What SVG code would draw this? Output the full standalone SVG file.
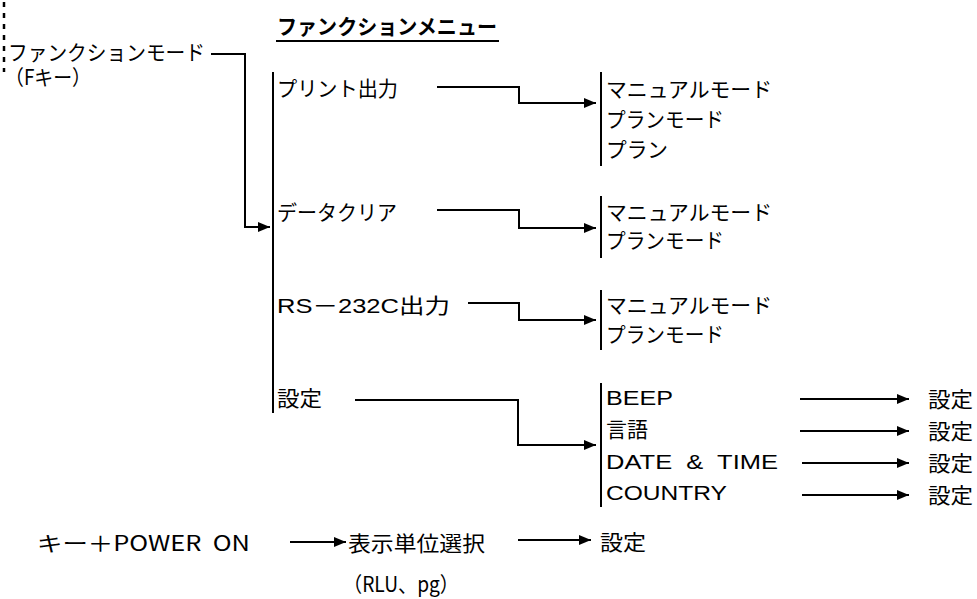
<svg xmlns="http://www.w3.org/2000/svg" width="977" height="599" viewBox="0 0 977 599">
<style>
text{font-family:"Noto Sans CJK JP","Liberation Sans",sans-serif;font-size:21px;fill:#000}
.lat{font-family:"Liberation Sans","Noto Sans CJK JP",sans-serif;font-size:21px}
.pre{white-space:pre}
.title{font-weight:bold}
.ln{fill:none;stroke:#000;stroke-width:2}
.bar{stroke:#000;stroke-width:2}
.arr{fill:none;stroke:#000;stroke-width:2;marker-end:url(#ah)}
</style>
<defs>
<marker id="ah" markerUnits="userSpaceOnUse" markerWidth="12" markerHeight="10" refX="12" refY="5" orient="auto">
<path d="M0,0 L12,5 L0,10 z" fill="#000"/>
</marker>
</defs>
<rect width="977" height="599" fill="#fff"/>
<line x1="4" y1="2" x2="4" y2="72" stroke="#000" stroke-width="2.5" stroke-dasharray="5 6"/>
<g id="title">
<text class="title" x="277" y="34" textLength="220" lengthAdjust="spacingAndGlyphs">ファンクションメニュー</text>
<line class="bar" x1="276" y1="41" x2="499" y2="41"/>
</g>
<g id="fmode">
<text x="8" y="60" textLength="197" lengthAdjust="spacingAndGlyphs">ファンクションモード</text>
<text x="5" y="85" textLength="86" lengthAdjust="spacingAndGlyphs">（Fキー）</text>
</g>
<g id="menu">
<line class="bar" x1="273" y1="72" x2="273" y2="413"/>
<text x="277" y="96" textLength="121" lengthAdjust="spacingAndGlyphs">プリント出力</text>
<text x="277" y="220" textLength="120" lengthAdjust="spacingAndGlyphs">データクリア</text>
<text class="lat" x="277" y="313" textLength="173" lengthAdjust="spacingAndGlyphs">RS－232C出力</text>
<text x="277" y="406" textLength="45" lengthAdjust="spacingAndGlyphs">設定</text>
</g>
<g id="print-sub">
<line class="bar" x1="601" y1="72" x2="601" y2="166"/>
<text x="606" y="97" textLength="166" lengthAdjust="spacingAndGlyphs">マニュアルモード</text>
<text x="606" y="127" textLength="118" lengthAdjust="spacingAndGlyphs">プランモード</text>
<text x="606" y="157" textLength="62" lengthAdjust="spacingAndGlyphs">プラン</text>
</g>
<g id="clear-sub">
<line class="bar" x1="601" y1="196" x2="601" y2="258"/>
<text x="606" y="220" textLength="166" lengthAdjust="spacingAndGlyphs">マニュアルモード</text>
<text x="606" y="248" textLength="118" lengthAdjust="spacingAndGlyphs">プランモード</text>
</g>
<g id="rs-sub">
<line class="bar" x1="601" y1="290" x2="601" y2="350"/>
<text x="606" y="313" textLength="166" lengthAdjust="spacingAndGlyphs">マニュアルモード</text>
<text x="606" y="342" textLength="118" lengthAdjust="spacingAndGlyphs">プランモード</text>
</g>
<g id="settings-sub">
<line class="bar" x1="601" y1="383" x2="601" y2="507"/>
<text class="lat" x="606" y="405" textLength="67" lengthAdjust="spacingAndGlyphs">BEEP</text>
<text x="606" y="437" textLength="42" lengthAdjust="spacingAndGlyphs">言語</text>
<text class="lat pre" x="606" y="469" textLength="172" lengthAdjust="spacingAndGlyphs">DATE  &amp;  TIME</text>
<text class="lat" x="606" y="500" textLength="121" lengthAdjust="spacingAndGlyphs">COUNTRY</text>
</g>
<g id="settings-right">
<text x="928" y="407" textLength="45" lengthAdjust="spacingAndGlyphs">設定</text>
<text x="928" y="439" textLength="45" lengthAdjust="spacingAndGlyphs">設定</text>
<text x="928" y="471" textLength="45" lengthAdjust="spacingAndGlyphs">設定</text>
<text x="928" y="503" textLength="45" lengthAdjust="spacingAndGlyphs">設定</text>
</g>
<g id="power">
<text class="pre" x="37" y="551" textLength="213" lengthAdjust="spacingAndGlyphs">キー＋POWER  ON</text>
</g>
<g id="unit">
<text x="348" y="551" textLength="137" lengthAdjust="spacingAndGlyphs">表示単位選択</text>
<text x="343" y="592" textLength="116" lengthAdjust="spacingAndGlyphs">（RLU、pg）</text>
</g>
<g id="unit-set">
<text x="600" y="550" textLength="46" lengthAdjust="spacingAndGlyphs">設定</text>
</g>
<g id="connectors">
<polyline class="arr" points="211,54 245,54 245,227 270,227"/>
<polyline class="arr" points="437,87 519,87 519,103 596,103"/>
<polyline class="arr" points="437,210 519,210 519,228 596,228"/>
<polyline class="arr" points="468,303 519,303 519,320 596,320"/>
<polyline class="arr" points="355,400 518,400 518,445 596,445"/>
<line class="arr" x1="800" y1="399" x2="909" y2="399"/>
<line class="arr" x1="800" y1="431" x2="909" y2="431"/>
<line class="arr" x1="802" y1="463" x2="909" y2="463"/>
<line class="arr" x1="802" y1="495" x2="909" y2="495"/>
<line class="arr" x1="290" y1="542" x2="346" y2="542"/>
<line class="arr" x1="518" y1="540" x2="591" y2="540"/>
</g>
</svg>
